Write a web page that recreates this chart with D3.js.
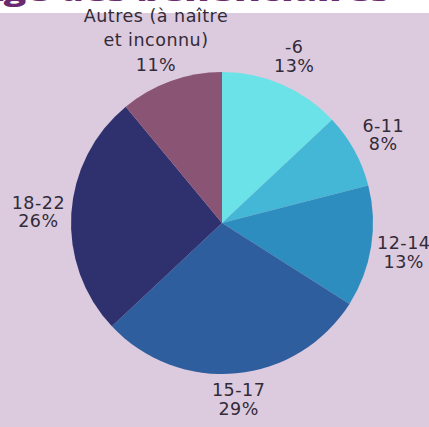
<!DOCTYPE html>
<html>
<head>
<meta charset="utf-8">
<script src="https://cdn.jsdelivr.net/npm/d3@7"></script>
<style>
  html, body { margin: 0; padding: 0; background: #dccade; }
  svg { display: block; }
</style>
</head>
<body>
<div id="chart"></div>
<script>
/* DATA */
var categories = ["-6", "6-11", "12-14", "15-17", "18-22", "Autres (à naître|et inconnu)"];
var values = [13, 8, 13, 29, 26, 11];
var colors = ["#6be2e8", "#44b6d6", "#2e8dbf", "#2e5e9d", "#2e316e", "#8a5575"];
var title = "Âge des bénéficiaires";

// distance of each label block from the pie centre (layout only)
var labelRadius = [182, 184, 184, 177, 184, 195];

/* SETUP */
var width = 429;
var height = 427;
var cx = 222, cy = 223;
var radius = 151;

var svg = d3.select("#chart")
  .append("svg")
  .attr("width", width)
  .attr("height", height);

// white band with the cut off title on top
svg.append("rect")
  .attr("x", 0).attr("y", 0)
  .attr("width", width).attr("height", 13)
  .attr("fill", "#ffffff");

svg.append("text")
  .attr("x", -24)
  .attr("y", 0.5)
  .attr("font-family", "'Open Sans', sans-serif")
  .attr("font-weight", 800)
  .attr("font-size", 26)
  .attr("textLength", 414)
  .attr("lengthAdjust", "spacingAndGlyphs")
  .attr("fill", "#6b2a6f")
  .text(title);

var data = categories.map(function(c, i) {
  return { label: c, value: values[i], color: colors[i] };
});

var pie = d3.pie()
  .sort(null)
  .value(function(d) { return d.value; });

var arc = d3.arc()
  .innerRadius(0)
  .outerRadius(radius);

var g = svg.append("g")
  .attr("transform", "translate(" + cx + "," + cy + ")");

g.selectAll("path")
  .data(pie(data))
  .enter()
  .append("path")
  .attr("d", arc)
  .attr("fill", function(d) { return d.data.color; });

// labels: category lines + percentage, centred on a label arc
var labels = g.selectAll("text.label")
  .data(pie(data))
  .enter()
  .append("text")
  .attr("class", "label")
  .attr("text-anchor", "middle")
  .attr("font-family", "'DejaVu Sans', sans-serif")
  .attr("font-size", 17.5)
  .attr("letter-spacing", 0.5)
  .attr("fill", "#332b38");

labels.each(function(d, i) {
  var lines = d.data.label.split("|").concat([d.data.value + "%"]);
  var lh = lines.length > 2 ? 24.5 : 18.5;
  var capH = 13;
  var r = labelRadius[i];
  var c = d3.arc().innerRadius(r).outerRadius(r).centroid(d);
  var firstBase = c[1] - ((lines.length - 1) * lh + capH) / 2 + capH;
  var t = d3.select(this);
  lines.forEach(function(line, k) {
    t.append("tspan")
      .attr("x", c[0])
      .attr("y", firstBase + k * lh)
      .text(line);
  });
});
</script>
</body>
</html>
